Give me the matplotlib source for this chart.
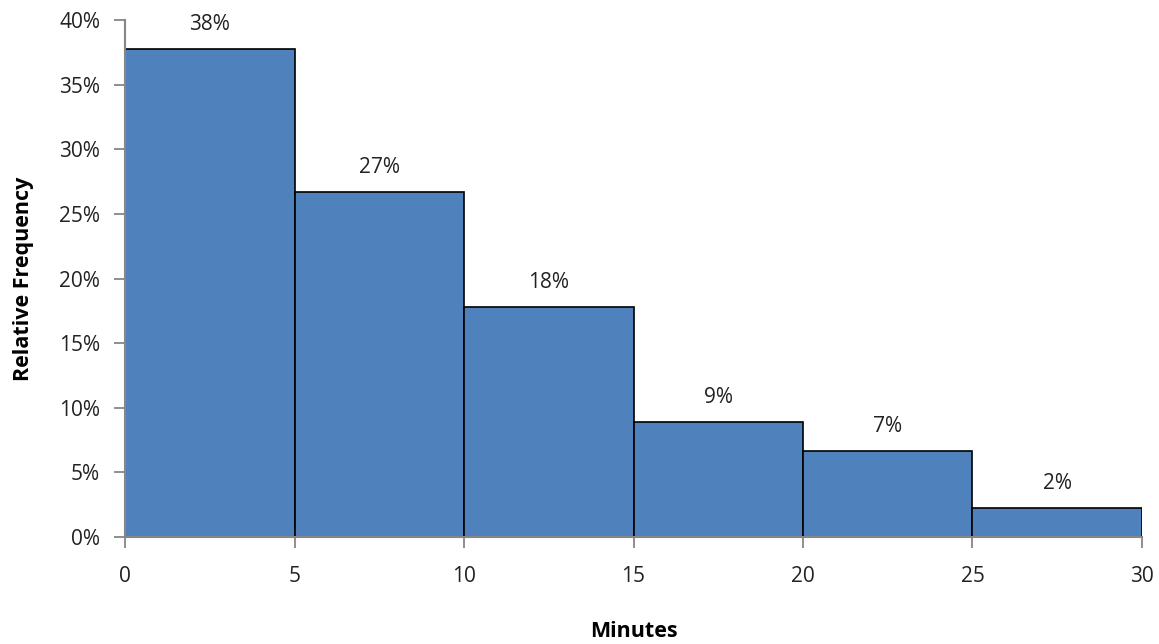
import numpy as np
import matplotlib.pyplot as plt
from matplotlib.ticker import PercentFormatter

# waiting-time histogram, 5 minute bins
bin_edges = [0, 5, 10, 15, 20, 25, 30]
counts = [17, 12, 8, 4, 3, 1]

rel_freq = np.array(counts) / sum(counts)

plt.rcParams['font.family'] = ['Open Sans', 'DejaVu Sans']

fig = plt.figure(figsize=(11.59, 6.44), dpi=100)
ax = fig.add_axes([0.1079, 0.1661, 0.9853 - 0.1079, 0.9689 - 0.1661])

lefts = np.array(bin_edges[:-1])
widths = np.diff(bin_edges)
bars = ax.bar(lefts, rel_freq, width=widths, align='edge',
              color='#4F81BD', edgecolor='black', linewidth=1.2, zorder=2)

for b, v in zip(bars, rel_freq):
    ax.text(b.get_x() + b.get_width() / 2, v + 0.011, f'{v:.0%}',
            ha='center', va='bottom', fontsize=15, color='#222222')

ax.set_xlim(0, 30)
ax.set_ylim(0, 0.40)
ax.set_xticks(bin_edges)
ax.set_yticks(np.arange(0, 0.41, 0.05))
ax.yaxis.set_major_formatter(PercentFormatter(1.0, decimals=0))

for s in ['top', 'right']:
    ax.spines[s].set_visible(False)
for s in ['left', 'bottom']:
    ax.spines[s].set_color('#868686')
    ax.spines[s].set_linewidth(1.5)
ax.tick_params(axis='both', colors='#868686', length=8, width=1.3,
               labelsize=15, labelcolor='#222222')
ax.tick_params(axis='x', pad=13)
ax.tick_params(axis='y', pad=10)

ax.set_xlabel('Minutes', fontsize=15.5, fontweight='bold', labelpad=24)
ax.set_ylabel('Relative Frequency', fontsize=15.5, fontweight='bold', labelpad=18)

fig.savefig('out.png', dpi=100)
